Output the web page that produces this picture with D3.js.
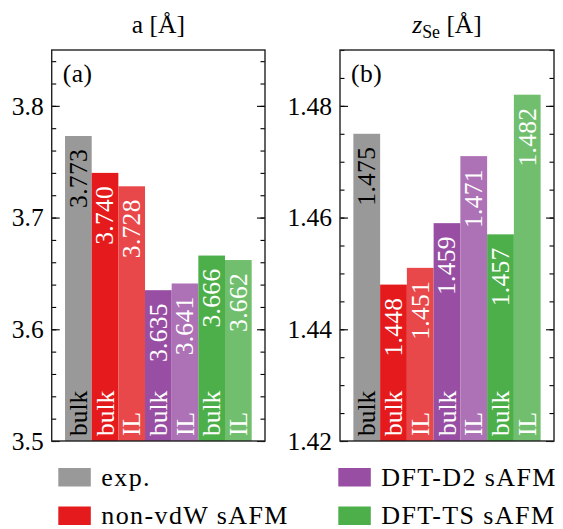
<!DOCTYPE html>
<html>
<head>
<meta charset="utf-8">
<script src="https://cdn.jsdelivr.net/npm/d3@7"></script>
<style>
  html, body { margin: 0; padding: 0; background: #fff; }
  svg { display: block; }
  text { font-family: "Liberation Serif", "DejaVu Serif", "Noto Serif", serif; }
</style>
</head>
<body>
<svg id="chart" width="563" height="529"></svg>
<script>
// ---- data ----
const categories = ["exp. bulk", "non-vdW bulk", "non-vdW IL", "DFT-D2 bulk", "DFT-D2 IL", "DFT-TS bulk", "DFT-TS IL"];
const barLabels = ["bulk", "bulk", "IL", "bulk", "IL", "bulk", "IL"];
const latticeA = [3.773, 3.740, 3.728, 3.635, 3.641, 3.666, 3.662];
const zSe = [1.475, 1.448, 1.451, 1.459, 1.471, 1.457, 1.482];
const barColors = ["#999999", "#e41a1c", "#e9484a", "#984ea3", "#ad71b5", "#4daf4a", "#71bf6e"];
const textColors = ["#000000", "#ffffff", "#ffffff", "#ffffff", "#ffffff", "#ffffff", "#ffffff"];
const aTicks = [3.5, 3.6, 3.7, 3.8];
const zTicks = [1.42, 1.44, 1.46, 1.48];
const legendLabels = ["exp.", "non-vdW sAFM", "DFT-D2 sAFM", "DFT-TS sAFM"];
const legendColors = ["#999999", "#e41a1c", "#984ea3", "#4daf4a"];

const FS = 25.5;
const svg = d3.select("#chart");
const plotTop = 50, plotBottom = 441;

function panel(opts) {
  const g = svg.append("g");
  const x = d3.scaleBand().domain(d3.range(categories.length))
    .range([opts.x0, opts.x1]).paddingInner(0).paddingOuter(0.5);
  const y = d3.scaleLinear().domain(opts.domain).range([plotBottom, plotTop]);

  g.selectAll("rect.bar").data(opts.values).join("rect")
    .attr("class", "bar")
    .attr("x", (d, i) => x(i))
    .attr("width", x.bandwidth())
    .attr("y", d => y(d))
    .attr("height", d => plotBottom - y(d))
    .attr("fill", (d, i) => barColors[i]);

  g.selectAll("text.val").data(opts.values).join("text")
    .attr("class", "val")
    .attr("transform", (d, i) => `translate(${x(i) + x.bandwidth() / 2 + FS * 0.33},${y(d) + 13}) rotate(-90)`)
    .attr("text-anchor", "end")
    .attr("font-size", FS)
    .attr("letter-spacing", 0.3)
    .attr("fill", (d, i) => textColors[i])
    .text(d => d.toFixed(3));

  g.selectAll("text.cat").data(barLabels).join("text")
    .attr("class", "cat")
    .attr("transform", (d, i) => `translate(${x(i) + x.bandwidth() / 2 + FS * 0.34},${plotBottom - 5}) rotate(-90)`)
    .attr("text-anchor", "start")
    .attr("font-size", FS)
    .attr("fill", (d, i) => textColors[i])
    .text(d => d);

  const minor = y.ticks(opts.minorCount);
  const minorL = d3.axisLeft(y).tickValues(minor).tickSize(-4.5).tickSizeOuter(0).tickFormat("");
  const minorR = d3.axisRight(y).tickValues(minor).tickSize(-4.5).tickSizeOuter(0).tickFormat("");
  const majorL = d3.axisLeft(y).tickValues(opts.ticks).tickSize(-8).tickSizeOuter(0).tickPadding(8).tickFormat(d3.format(opts.fmt));
  const majorR = d3.axisRight(y).tickValues(opts.ticks).tickSize(-8).tickSizeOuter(0).tickFormat("");

  [[minorL, opts.x0], [minorR, opts.x1], [majorL, opts.x0], [majorR, opts.x1]].forEach(([ax, xp]) => {
    const a = g.append("g").attr("transform", `translate(${xp},0)`).call(ax);
    a.select(".domain").remove();
    a.selectAll("line").attr("stroke", "#000").attr("stroke-width", 1.1);
    a.selectAll("text").attr("font-size", FS).attr("fill", "#000").attr("font-family", null);
  });

  g.append("rect").attr("x", opts.x0).attr("y", plotTop)
    .attr("width", opts.x1 - opts.x0).attr("height", plotBottom - plotTop)
    .attr("fill", "none").attr("stroke", "#222").attr("stroke-width", 1.4);

  g.append("text").attr("x", opts.x0 + 11).attr("y", 82)
    .attr("font-size", FS).attr("letter-spacing", 0.5).text(opts.letter);

  const t = g.append("text").attr("x", (opts.x0 + opts.x1) / 2).attr("y", 33)
    .attr("text-anchor", "middle").attr("font-size", FS);
  opts.title(t);
}

panel({
  x0: 51.7, x1: 265, domain: [3.5, 3.85], values: latticeA, ticks: aTicks,
  fmt: ".1f", minorCount: 17, letter: "(a)",
  title: t => t.text("a [Å]")
});

panel({
  x0: 340, x1: 554, domain: [1.42, 1.49], values: zSe, ticks: zTicks,
  fmt: ".2f", minorCount: 14, letter: "(b)",
  title: t => {
    t.append("tspan").attr("font-style", "italic").text("z");
    t.append("tspan").attr("font-size", FS * 0.7).attr("dy", 5).text("Se");
    t.append("tspan").attr("dy", -5).text(" [Å]");
  }
});

const legendPos = [
  { x: 58.3, y: 468 }, { x: 58.3, y: 506.5 },
  { x: 338.3, y: 468 }, { x: 338.3, y: 506.5 }
];
const lg = svg.append("g");
legendLabels.forEach((lab, i) => {
  const p = legendPos[i];
  lg.append("rect").attr("x", p.x).attr("y", p.y).attr("width", 32.5).attr("height", 18.5)
    .attr("fill", legendColors[i]);
  lg.append("text").attr("x", p.x + 43).attr("y", p.y + 17.5)
    .attr("font-size", 26).attr("letter-spacing", 1.4).text(lab);
});
</script>
</body>
</html>
